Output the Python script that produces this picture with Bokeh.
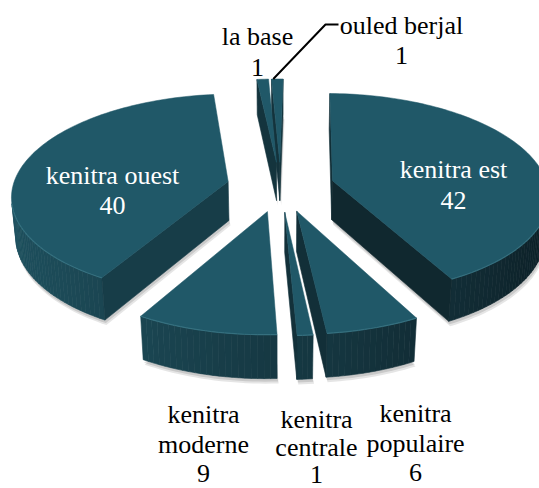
import numpy as np
from bokeh.plotting import figure
from bokeh.models import Range1d
from bokeh.embed import file_html
from bokeh.resources import INLINE
from bokeh.core.properties import value

# ---------------- data ----------------
slice_names = ["kenitra est", "kenitra populaire", "kenitra centrale",
               "kenitra moderne", "kenitra ouest", "la base", "ouled berjal"]
slice_values = [42, 6, 1, 9, 40, 1, 1]
label_lines = [["kenitra est"], ["kenitra", "populaire"], ["kenitra", "centrale"],
               ["kenitra", "moderne"], ["kenitra ouest"], ["la base"], ["ouled berjal"]]

# ---------------- layout / style ----------------
CX, CY = 280.0, 186.0
GX = 1658.0          # horizontal scale
BV = 770.0           # vertical (depth) scale
TANA = 0.552         # tan of the tilt
FW = BV / TANA       # height scale
DN = 7.7             # camera distance
DEPTH = 0.22
EXPLODE = 0.25
ROT = 1.0            # first slice angle (deg)
TOP = "#205868"
LIGHT = np.array([31, 82, 96])
DARK = np.array([13, 32, 39])
FONT = "Liberation Serif"
FSIZE = "26px"

# label anchors: (x centre, first baseline, line gap, colour)
label_pos = [(453, 169, 31, "white"), (415, 413, 29.5, "black"), (316, 419, 27.5, "black"),
             (203, 414, 29.5, "black"), (112, 175, 30, "white"), (257, 36, 31, "black"),
             (401, 25, 30, "black")]


def proj(u, v, w):
    z = DN + v - w * TANA
    return CX + GX * u / z, CY - (BV * v + FW * w) / z, z


def hexcol(c):
    c = np.clip(np.round(c), 0, 255).astype(int)
    return "#%02x%02x%02x" % tuple(c)


def wall_color(u, k=1.0):
    t = float(np.clip((u + 1) / 2, 0, 1))
    return hexcol((LIGHT * (1 - t) + DARK * t) * k)


def signed_area(xs, ys):
    a = 0.0
    n = len(xs)
    for i in range(n):
        j = (i + 1) % n
        a += xs[i] * (-ys[j]) - xs[j] * (-ys[i])
    return a / 2


total = float(sum(slice_values))
cum = np.concatenate([[0], np.cumsum(slice_values)]) / total * 360.0 + ROT

p = figure(width=539, height=488, output_backend="svg", toolbar_location=None,
           x_range=Range1d(0, 539), y_range=Range1d(488, 0),
           x_axis_location=None, y_axis_location=None, min_border=0)
p.grid.visible = False
p.outline_line_color = None
p.background_fill_color = "white"
p.border_fill_color = "white"

slices = []
for i, val in enumerate(slice_values):
    a, b = cum[i], cum[i + 1]
    mid = np.radians((a + b) / 2)
    du, dv = EXPLODE * np.sin(mid), EXPLODE * np.cos(mid)
    n = max(2, int((b - a) / 1.5) + 2)
    th = np.radians(np.linspace(a, b, n))
    _, _, zc = proj(du + 0.5 * np.sin(mid), dv + 0.5 * np.cos(mid), 0)
    slices.append(dict(i=i, a=np.radians(a), b=np.radians(b), du=du, dv=dv, th=th, z=zc))

# soft drop shadows
for off, alpha in [(5, 0.10), (3, 0.12)]:
    sx, sy = [], []
    for s in slices:
        us = [s["du"]] + list(s["du"] + np.sin(s["th"]))
        vs = [s["dv"]] + list(s["dv"] + np.cos(s["th"]))
        X, Y, _ = proj(np.array(us), np.array(vs), -DEPTH)
        sx.append(list(X + off * 0.3))
        sy.append(list(Y + off))
    p.patches(sx, sy, fill_color="black", fill_alpha=alpha, line_color=None)

# slices, far to near
for s in sorted(slices, key=lambda d: -d["z"]):
    du, dv, th = s["du"], s["dv"], s["th"]
    xs, ys, cols = [], [], []
    rim_x, rim_y = [], []
    # outer wall
    for k in range(len(th) - 1):
        t1, t2 = th[k], th[k + 1]
        pts = [(t1, 0), (t2, 0), (t2, -DEPTH), (t1, -DEPTH)]
        X, Y, _ = proj(np.array([du + np.sin(t) for t, _ in pts]),
                       np.array([dv + np.cos(t) for t, _ in pts]),
                       np.array([w for _, w in pts], float))
        if signed_area(X, Y) > 0:
            xs.append(list(X)); ys.append(list(Y))
            cols.append(wall_color(np.sin((t1 + t2) / 2)))
            rim_x.append([X[0], X[1]]); rim_y.append([Y[0], Y[1]])
    # radial walls
    for ang, start in [(s["a"], True), (s["b"], False)]:
        pu, pv = du + np.sin(ang), dv + np.cos(ang)
        if start:
            us, vs, ws = [du, pu, pu, du], [dv, pv, pv, dv], [0, 0, -DEPTH, -DEPTH]
        else:
            us, vs, ws = [pu, du, du, pu], [pv, dv, dv, pv], [0, 0, -DEPTH, -DEPTH]
        X, Y, _ = proj(np.array(us, float), np.array(vs, float), np.array(ws, float))
        if signed_area(X, Y) > 0:
            xs.append(list(X)); ys.append(list(Y))
            cols.append(wall_color(du + 0.5 * np.sin(ang), 0.88))
    # top face
    us = [du] + list(du + np.sin(th[::-1]))
    vs = [dv] + list(dv + np.cos(th[::-1]))
    X, Y, _ = proj(np.array(us), np.array(vs), 0.0)
    if xs:
        p.patches(xs, ys, fill_color=cols, line_color=cols, line_width=0.6)
    p.patch(list(X), list(Y), fill_color=TOP, line_color=TOP, line_width=0.5)
    if rim_x:
        p.multi_line(rim_x, rim_y, line_color="#3a7585", line_width=1.2, line_alpha=0.8)

# leader line for ouled berjal
ob = slices[6]
mid = (ob["a"] + ob["b"]) / 2
ex, ey, _ = proj(ob["du"] + np.sin(mid), ob["dv"] + np.cos(mid), 0.0)
lx, ly, gap, _ = label_pos[6]
p.line([lx - 63, lx - 76, ex - 4], [ly - 1, ly - 1, ey], line_color="black", line_width=2)

# labels
for i, lines in enumerate(label_lines):
    x0, y0, gap, col = label_pos[i]
    texts = lines + [str(slice_values[i])]
    p.text(x=[x0] * len(texts), y=[y0 + gap * j for j in range(len(texts))], text=texts,
           text_font=value(FONT), text_font_size=value(FSIZE), text_color=col,
           text_align="center", text_baseline="alphabetic")

open("out.html", "w").write(file_html(p, INLINE))
